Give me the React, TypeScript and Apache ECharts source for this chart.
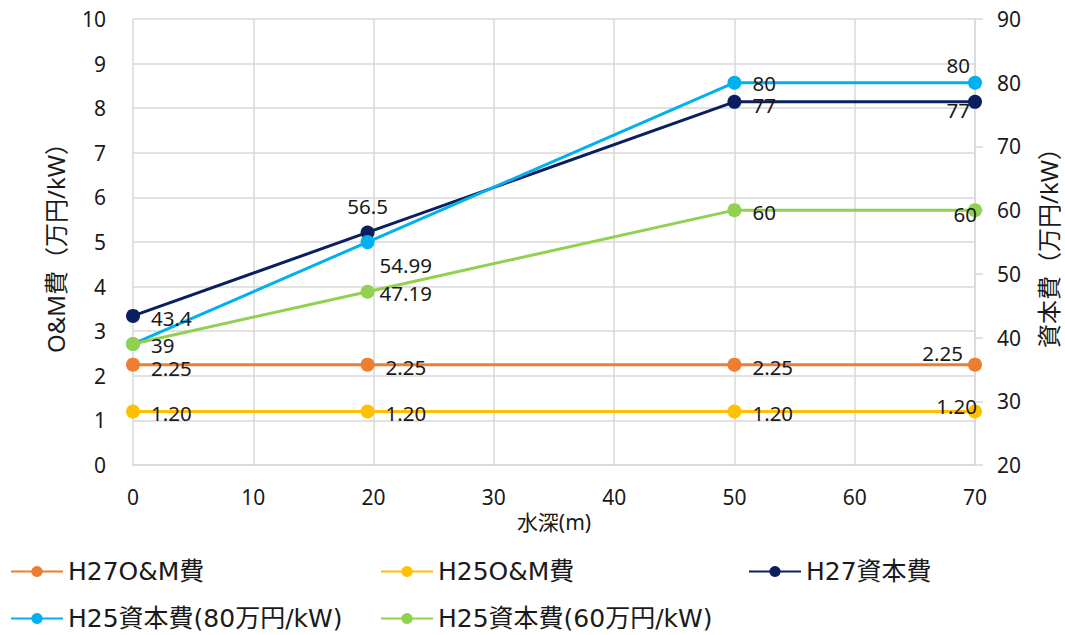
import React, { useEffect, useRef } from 'react';
import * as echarts from 'echarts';

const depths = [0, 19.5, 50, 70];
const seriesNames = ['H27O&M費', 'H25O&M費', 'H27資本費', 'H25資本費(80万円/kW)', 'H25資本費(60万円/kW)'];
const h27OM = [2.25, 2.25, 2.25, 2.25];
const h25OM = [1.2, 1.2, 1.2, 1.2];
const h27Cap = [43.4, 56.5, 77, 77];
const h25Cap80 = [39, 54.99, 80, 80];
const h25Cap60 = [39, 47.19, 60, 60];

const colors = ['#ED7D31', '#FFC000', '#0B1F5E', '#00B0F0', '#92D050'];

type LabelPlace = [string, number, number, boolean];
const labelPlaces: LabelPlace[][] = [
  [['right', 6, 3, true], ['right', 6, 2, true], ['right', 6, 2, true], ['left', 0, -12, true]],
  [['right', 6, 2, true], ['right', 6, 2, true], ['right', 6, 2, true], ['left', 14, -5, true]],
  [['right', 6, 2, true], ['top', 0, -4, true], ['right', 6, 3, true], ['left', 7, 8, true]],
  [['right', 6, 1, true], ['right', 0, 23, true], ['right', 6, 0, true], ['left', 7, -18, true]],
  [['right', 6, 2, false], ['right', 0, 1, true], ['right', 6, 2, true], ['left', 14, 4, true]],
];

const FONT = '"Noto Sans", "Noto Sans CJK JP", sans-serif';
const LEGEND_FONT = '"DejaVu Sans", "Noto Sans CJK JP", sans-serif';
const TXT = '#1a1a1a';

export default function App() {
  const ref = useRef<HTMLDivElement>(null);
  useEffect(() => {
    if (!ref.current) return;
    const chart = echarts.init(ref.current, undefined, { renderer: 'svg' });
    const values = [h27OM, h25OM, h27Cap, h25Cap80, h25Cap60];
    const yIdx = [0, 0, 1, 1, 1];
    const series = values.map((vals, si) => ({
      name: seriesNames[si],
      type: 'line',
      yAxisIndex: yIdx[si],
      symbol: 'circle',
      symbolSize: 14,
      lineStyle: { width: 3, color: colors[si] },
      itemStyle: { color: colors[si] },
      data: vals.map((v, i) => ({
        value: [depths[i], v],
        label: {
          show: labelPlaces[si][i][3],
          position: labelPlaces[si][i][0],
          offset: [labelPlaces[si][i][1], labelPlaces[si][i][2]],
          formatter: () => (si < 2 ? v.toFixed(2) : String(v)),
          fontSize: 20.5,
          fontFamily: FONT,
          color: TXT,
        },
      })),
    }));
    const legendPos = [
      [10, 559], [380, 559], [748, 559], [10, 606], [380, 606],
    ];
    chart.setOption({
      animation: false,
      color: colors,
      grid: { left: 133, width: 842, top: 19, height: 446, outerBoundsMode: 'none', containLabel: false },
      legend: seriesNames.map((n, i) => ({
        data: [n],
        left: legendPos[i][0],
        top: legendPos[i][1],
        padding: 0,
        itemWidth: 52,
        itemHeight: 14,
        textStyle: { fontSize: 25, fontFamily: LEGEND_FONT, color: TXT },
      })),
      xAxis: {
        type: 'value',
        min: 0,
        max: 70,
        interval: 10,
        name: '水深(m)',
        nameLocation: 'middle',
        nameGap: 36,
        nameTextStyle: { fontSize: 21, fontFamily: FONT, color: TXT },
        axisLine: { show: true, lineStyle: { color: '#d9d9d9', width: 1.5 } },
        axisTick: { show: false },
        axisLabel: { fontSize: 21, fontFamily: FONT, color: TXT, margin: 21 },
        splitLine: { show: true, lineStyle: { color: '#d9d9d9', width: 1.5 } },
      },
      yAxis: [
        {
          type: 'value',
          min: 0,
          max: 10,
          interval: 1,
          name: 'O&M費（万円/kW）',
          nameLocation: 'middle',
          nameGap: 66,
          nameTextStyle: { fontSize: 24, fontFamily: FONT, color: TXT },
          axisLine: { show: false },
          axisTick: { show: false },
          axisLabel: { fontSize: 21, fontFamily: FONT, color: TXT, margin: 27 },
          splitLine: { show: true, lineStyle: { color: '#d9d9d9', width: 1.5 } },
        },
        {
          type: 'value',
          min: 20,
          max: 90,
          interval: 10,
          position: 'right',
          name: '資本費（万円/kW）',
          nameLocation: 'middle',
          nameGap: 61,
          nameTextStyle: { fontSize: 24, fontFamily: FONT, color: TXT },
          axisLine: { show: true, lineStyle: { color: '#d9d9d9', width: 1.5 } },
          axisTick: { show: true, length: 8, lineStyle: { color: '#d9d9d9', width: 1.5 } },
          axisLabel: { fontSize: 21, fontFamily: FONT, color: TXT, margin: 22 },
          splitLine: { show: false },
        },
      ],
      series,
    });
    return () => chart.dispose();
  }, []);
  return <div ref={ref} style={{ width: 1065, height: 635, position: 'absolute', left: 0, top: 0 }} />;
}
